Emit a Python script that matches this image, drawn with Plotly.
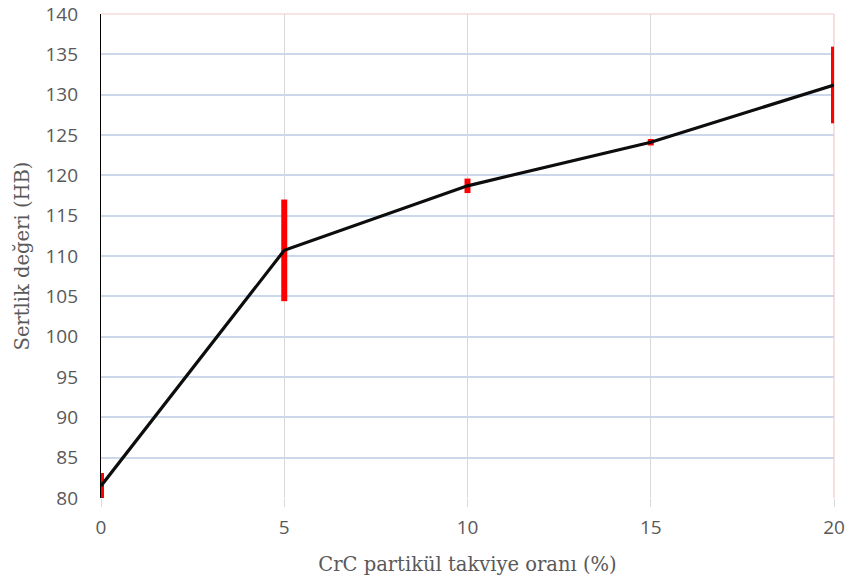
import plotly.graph_objects as go

# CrC reinforcement ratio (%) and measured hardness (HB)
crc_ratio = [0, 5, 10, 15, 20]
hardness = [81.5, 110.7, 118.7, 124.1, 131.2]
hardness_err = [1.6, 6.3, 0.9, 0.4, 4.75]

x_ticks = [0, 5, 10, 15, 20]
y_ticks = [80, 85, 90, 95, 100, 105, 110, 115, 120, 125, 130, 135, 140]

fig = go.Figure()

fig.add_trace(go.Scatter(
    x=crc_ratio,
    y=hardness,
    mode="lines",
    line=dict(color="#0d0d0d", width=3.2),
    error_y=dict(type="data", array=hardness_err, visible=True,
                 color="#ff0000", thickness=6, width=0),
    showlegend=False,
))

# pink frame on the top and right edges of the plot area
fig.add_shape(type="line", xref="paper", yref="paper", x0=0, x1=1, y0=1, y1=1,
              line=dict(color="#f3c9c9", width=1.2), layer="below")
fig.add_shape(type="line", xref="paper", yref="paper", x0=1, x1=1, y0=0, y1=1,
              line=dict(color="#f3c9c9", width=1.2), layer="below")

tick_font = dict(family="Open Sans, Noto Sans, sans-serif", size=19, color="#595959")
title_font = dict(family="DejaVu Serif, Liberation Serif, serif", size=19.5, color="#595959")

fig.update_layout(
    width=853, height=588,
    margin=dict(l=101, r=19, t=14, b=90),
    paper_bgcolor="white",
    plot_bgcolor="white",
    xaxis=dict(
        range=[0, 20],
        automargin=False,
        tickvals=x_ticks,
        ticktext=[str(v) for v in x_ticks],
        showgrid=True, gridcolor="#d9d9d9", gridwidth=1,
        ticks="outside", ticklen=8, tickcolor="#d9d9d9",
        zeroline=False, showline=False,
        tickfont=tick_font,
        ticklabelstandoff=4,
        title=dict(text="CrC partikül takviye oranı (%)", font=title_font, standoff=18),
    ),
    yaxis=dict(
        range=[80, 140],
        automargin=False,
        tickvals=y_ticks,
        showgrid=True, gridcolor="#cad8ea", gridwidth=1.5,
        zeroline=False,
        showline=True, linecolor="#000000", linewidth=1.2,
        ticks="", tickfont=tick_font,
        ticklabelstandoff=18,
        title=dict(text="Sertlik değeri (HB)", font=title_font, standoff=10),
    ),
)

fig.write_html("out.html")
